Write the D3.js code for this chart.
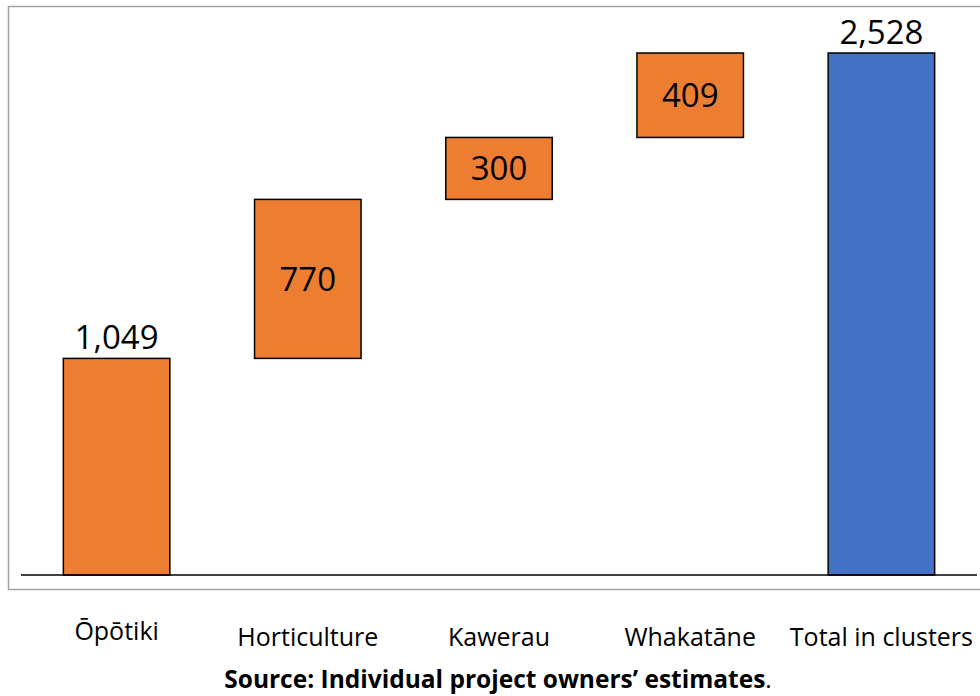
<!DOCTYPE html>
<html>
<head>
<meta charset="utf-8">
<script src="https://cdn.jsdelivr.net/npm/d3@7"></script>
<style>
  body { margin: 0; background: #fff; }
  svg text { font-family: "Open Sans", sans-serif; fill: #000; }
</style>
</head>
<body>
<div id="chart"></div>
<script>
const categories = ["Ōpōtiki", "Horticulture", "Kawerau", "Whakatāne", "Total in clusters"];
const values = [1049, 770, 300, 409, 2528];
const isTotal = [false, false, false, false, true];

const W = 980, H = 696;
const svg = d3.select("#chart").append("svg").attr("width", W).attr("height", H);

// waterfall: each step starts where the previous ended, the total starts at 0
let running = 0;
const steps = categories.map((c, i) => {
  let start = isTotal[i] ? 0 : running;
  let end = isTotal[i] ? values[i] : running + values[i];
  if (!isTotal[i]) running = end;
  return { cat: c, value: values[i], start: start, end: end, total: isTotal[i] };
});

const x = d3.scaleBand().domain(categories).range([21, 977]).paddingInner(0.443).paddingOuter(0.2215);
const y = d3.scaleLinear().domain([0, 2528]).range([575, 53]);

// chart frame
svg.append("rect")
  .attr("x", 8.5).attr("y", 6.5)
  .attr("width", 990).attr("height", 583)
  .attr("fill", "none")
  .attr("stroke", "#a3a3a3")
  .attr("stroke-width", 1.5);

svg.selectAll("rect.bar")
  .data(steps)
  .join("rect")
  .attr("class", "bar")
  .attr("x", d => x(d.cat))
  .attr("y", d => y(d.end))
  .attr("width", x.bandwidth())
  .attr("height", d => y(d.start) - y(d.end))
  .attr("fill", d => d.total ? "#4472c4" : "#ed7d31")
  .attr("stroke", "#000")
  .attr("stroke-width", 1.5);

// baseline
svg.append("line")
  .attr("x1", 21).attr("x2", 977)
  .attr("y1", y(0)).attr("y2", y(0))
  .attr("stroke", "#000")
  .attr("stroke-width", 1.5);

const fmt = d3.format(",");

// labels: above bars that stand on the baseline, inside the floating ones
svg.selectAll("text.val")
  .data(steps)
  .join("text")
  .attr("class", "val")
  .attr("x", d => x(d.cat) + x.bandwidth() / 2)
  .attr("y", d => d.start === 0 ? y(d.end) - 9 : (y(d.start) + y(d.end)) / 2)
  .attr("dy", d => d.start === 0 ? 0 : "0.36em")
  .attr("text-anchor", "middle")
  .style("font-size", "33px")
  .text(d => fmt(d.value));

const xAxis = svg.append("g")
  .attr("transform", `translate(0, ${y(0)})`)
  .call(d3.axisBottom(x).tickSize(0).tickPadding(0));
xAxis.select(".domain").remove();
xAxis.selectAll("text")
  .attr("y", (d, i) => i === 0 ? 65 : 71)
  .attr("dy", 0)
  .style("font-size", "25px")
  .style("font-family", "'Open Sans', sans-serif");

const note = svg.append("text")
  .attr("x", W / 2 + 8)
  .attr("y", 688)
  .attr("text-anchor", "middle")
  .style("font-size", "24.5px");
note.append("tspan").style("font-weight", "bold").text("Source: Individual project owners’ estimates");
note.append("tspan").text(".");
</script>
</body>
</html>
